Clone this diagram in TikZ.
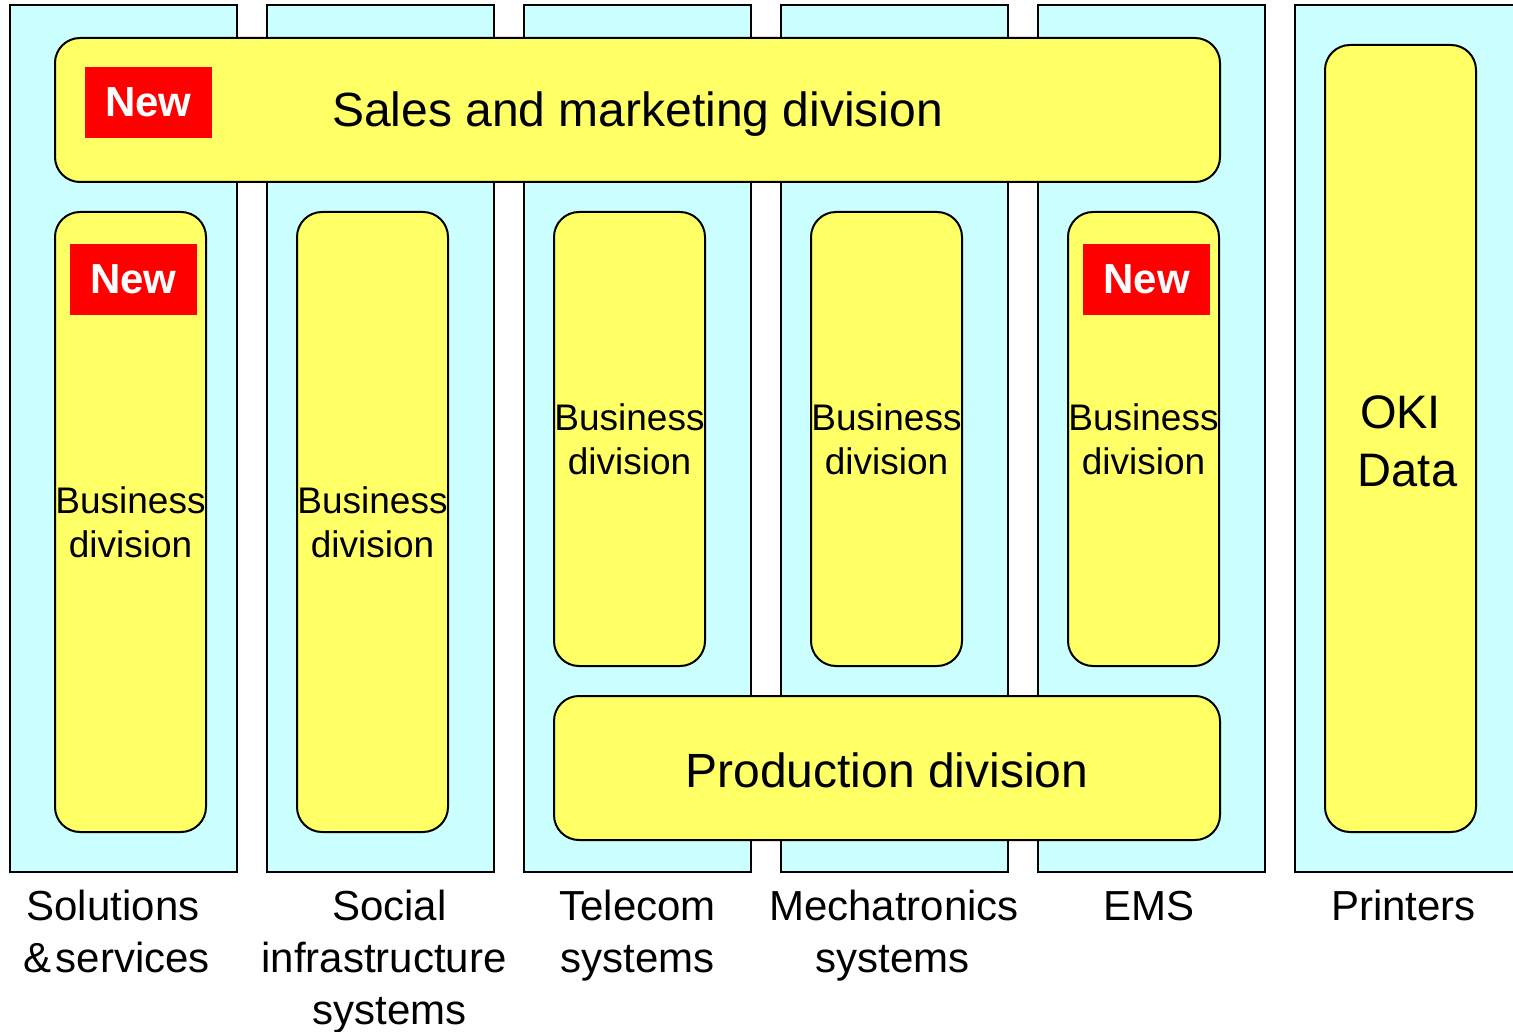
\documentclass[tikz,border=0pt]{standalone}
\usepackage{fontspec}
\setmainfont{Liberation Sans}
\definecolor{colcyan}{HTML}{CCFFFF}
\definecolor{unityellow}{HTML}{FFFF66}
\definecolor{tagred}{HTML}{FF0000}
\begin{document}
\begin{tikzpicture}[x=1pt,y=-1pt,
  column/.style={draw=black, line width=2pt, fill=colcyan},
  unit/.style={draw=black, line width=2pt, fill=unityellow, rounded corners=25pt,
    inner sep=0pt, align=center},
  bigtext/.style={anchor=base, inner sep=0pt, font=\fontsize{48}{56}\selectfont},
  bizbox/.style={unit, minimum width=151pt, font=\fontsize{37}{44}\selectfont},
  newtag/.style={fill=tagred, text=white, inner sep=0pt,
    minimum width=127pt, minimum height=71pt,
    font=\fontsize{42}{49}\selectfont\bfseries},
  sector/.style={anchor=base, inner sep=0pt, font=\fontsize{42}{52}\selectfont}]

\useasboundingbox (0,0) rectangle (1513,1032);
\clip (0,0) rectangle (1513,1032);

% business segments (columns)
\path[column] (10,5) rectangle (237,872);
\path[column] (267,5) rectangle (494,872);
\path[column] (524,5) rectangle (751,872);
\path[column] (781,5) rectangle (1008,872);
\path[column] (1038,5) rectangle (1265,872);
\path[column] (1295,5) rectangle (1530,872);

% shared divisions
\node[unit, minimum width=1165pt, minimum height=144pt] (sales) at (637.5,110) {};
\node[bigtext] (salestext) at (637.5,127) {Sales and marketing division};
\node[unit, minimum width=666pt, minimum height=144pt] (prod) at (887,768) {};
\node[bigtext] (prodtext) at (887,787) {Production division};

% business divisions
\node[bizbox, minimum height=620pt] (biz1) at (130.5,522) {Business\\division};
\node[bizbox, minimum height=620pt] (biz2) at (372.5,522) {Business\\division};
\node[bizbox, minimum height=454pt] (biz3) at (629.5,439) {Business\\division};
\node[bizbox, minimum height=454pt] (biz4) at (886.5,439) {Business\\division};
\node[bizbox, minimum height=454pt] (biz5) at (1143.5,439) {Business\\division};

% subsidiary
\node[unit, minimum width=151pt, minimum height=787pt] (oki) at (1400.5,438.5) {};
\node[inner sep=0pt, align=center, font=\fontsize{47}{58}\selectfont]
  (okitext) at (1400.5,441) {OKI\\\kern0.3em Data};

% "New" tags
\node[newtag] (newsales) at (148.5,102.5) {New};
\node[newtag] (new1) at (133.5,279.5) {New};
\node[newtag] (new5) at (1146.5,279.5) {New};

% segment names
\node[sector] (s1a) at (113,920) {Solutions};
\node[sector] (s1b) at (117,972) {\&\kern4pt services};
\node[sector] (s2a) at (389.5,920) {Social};
\node[sector] (s2b) at (384,972) {infrastructure};
\node[sector] (s2c) at (389.5,1024) {systems};
\node[sector] (s3a) at (637.5,920) {Telecom};
\node[sector] (s3b) at (637.5,972) {systems};
\node[sector] (s4a) at (894,920) {Mechatronics};
\node[sector] (s4b) at (892.5,972) {systems};
\node[sector] (s5a) at (1149,920) {EMS};
\node[sector] (s6a) at (1403.5,920) {Printers};
\end{tikzpicture}
\end{document}
